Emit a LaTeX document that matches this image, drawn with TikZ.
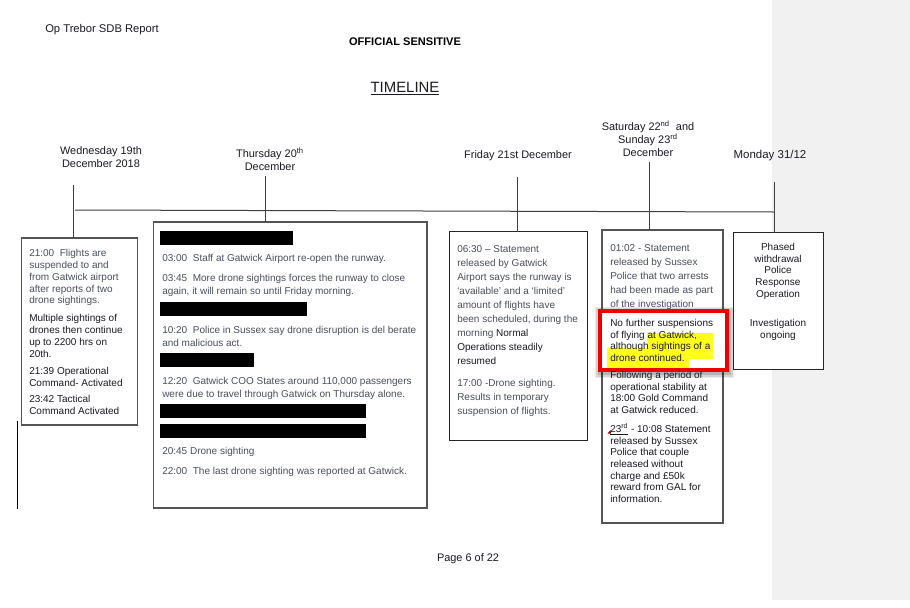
\documentclass[tikz,border=0pt]{standalone}
\usepackage{fontspec}
\usepackage{xcolor}
\setmainfont{Liberation Sans}
\usetikzlibrary{positioning,calc}
\definecolor{pagegrey}{HTML}{F1F1F1}
\definecolor{boxgrey}{HTML}{555555}
\definecolor{textgrey}{HTML}{4A4F5A}
\definecolor{textdark}{HTML}{1A1A22}
\definecolor{redframe}{HTML}{EE0000}
\definecolor{marker}{HTML}{FFFF1A}
\tikzset{
  datebox/.style={align=center,inner sep=0pt,text=textdark,font=\fontsize{8.2}{9.7}\selectfont},
  eventbox/.style={draw=boxgrey,line width=1pt,fill=white,anchor=north west,inner sep=0pt,outer sep=0pt},
  darkbox/.style={eventbox,draw=black!85,line width=0.75pt},
  para/.style={align=left,anchor=north west,inner sep=0pt,text=textgrey,font=\fontsize{7.5}{8.9}\selectfont},
  paradark/.style={para,text=textdark},
  redacted/.style={fill=black,anchor=north west,inner sep=0pt},
  stem/.style={draw=black!75,line width=0.75pt},
}
\begin{document}
\begin{tikzpicture}[x=0.75pt,y=-0.75pt]
      \useasboundingbox (0,0) rectangle (910,607);
      \fill[white] (0,0) rectangle (910,607);
      \fill[pagegrey] (772,0) rectangle (910,600);
      % header
      \node[anchor=west,inner sep=0pt,text=textdark,font=\fontsize{8.4}{10}\selectfont] (report) at (45,30) {Op Trebor SDB Report};
      \node[inner sep=0pt,font=\bfseries\fontsize{8.3}{10}\selectfont] (official) at (405,42) {OFFICIAL SENSITIVE};
      \node[inner sep=0pt,text=textdark,font=\fontsize{11.2}{13}\selectfont] (title) at (405,89) {\underline{TIMELINE}};
      \node[inner sep=0pt,text=textdark,font=\fontsize{8.2}{10}\selectfont] (page) at (468,559) {Page 6 of 22};
      % dates
      \node[datebox] (wed) at (101,157.5) {Wednesday 19th\\December 2018};
      \node[datebox] (thu) at (270,159.5) {Thursday 20\textsuperscript{th}\\December};
      \node[datebox] (fri) at (518,156) {Friday 21st December};
      \node[datebox] (sat) at (648,139) {Saturday 22\textsuperscript{nd}\ \ and\\Sunday 23\textsuperscript{rd}\\December};
      \node[datebox,font=\fontsize{8.6}{9.7}\selectfont] (mon) at (770,156) {Monday 31/12};
      % boxes
      \node[eventbox,minimum width=116pt*0.75,minimum height=187pt*0.75] (wedbox) at (21.5,238) {};
      \node[eventbox,minimum width=273.5pt*0.75,minimum height=286pt*0.75] (thubox) at (153.5,222) {};
      \node[darkbox,minimum width=138pt*0.75,minimum height=209pt*0.75] (fribox) at (449.5,231.5) {};
      \node[eventbox,minimum width=121pt*0.75,minimum height=293pt*0.75] (satbox) at (602,230) {};
      \node[darkbox,minimum width=89.5pt*0.75,minimum height=137pt*0.75] (monbox) at (733.5,232.5) {};
      % timeline
      \coordinate (lineleft) at (75,210);
      \coordinate (lineright) at (774,212);
      \coordinate (wedtop) at (73.5,185);
      \coordinate (thutop) at (265.5,176);
      \coordinate (fritop) at (517.5,177);
      \coordinate (sattop) at (649.5,162);
      \coordinate (montop) at (774.5,182);
      \draw[stem] (lineleft) -- (lineright);
      \draw[stem] (wedtop) -- (wedtop |- wedbox.north);
      \draw[stem] (thutop) -- (thutop |- thubox.north);
      \draw[stem] (fritop) -- (fritop |- fribox.north);
      \draw[stem] (sattop) -- (sattop |- satbox.north);
      \draw[stem] (montop) -- (montop |- monbox.north);
      % margin bar
      \coordinate (bartop) at (17.5,421);
      \coordinate (barend) at (17.5,509);
      \draw[black,line width=0.75pt] (bartop) -- (barend);
      % wednesday text
      \node[para] (w1) at (29,249) {21:00\ \ Flights are\\suspended to and\\from Gatwick airport\\after reports of two\\drone sightings.};
      \node[paradark] (w2) at (29,314) {Multiple sightings of\\drones then continue\\up to 2200 hrs on\\20th.};
      \node[paradark] (w3) at (29,367) {21:39 Operational\\Command- Activated};
      \node[paradark] (w4) at (29,395) {23:42 Tactical\\Command Activated};
      % thursday text
      \tikzset{para/.append style={font=\fontsize{7.5}{9.75}\selectfont}}
      \node[redacted,minimum width=133pt*0.75,minimum height=14pt*0.75] (black1) at (160,231) {};
      \node[redacted,minimum width=147pt*0.75,minimum height=14pt*0.75] (black2) at (160,302) {};
      \node[redacted,minimum width=94pt*0.75,minimum height=14pt*0.75] (black3) at (160,353) {};
      \node[redacted,minimum width=206pt*0.75,minimum height=14pt*0.75] (black4) at (160,404) {};
      \node[redacted,minimum width=206pt*0.75,minimum height=14pt*0.75] (black5) at (160,424) {};
      \node[para] (t1) at (162,254) {03:00\ \ Staff at Gatwick Airport re-open the runway.};
      \node[para] (t2) at (162,273.5) {03:45\ \ More drone sightings forces the runway to close\\again, it will remain so until Friday morning.};
      \node[para] (t3) at (162,326) {10:20\ \ Police in Sussex say drone disruption is del berate\\and malicious act.};
      \node[para] (t4) at (162,377) {12:20\ \ Gatwick COO States around 110,000 passengers\\were due to travel through Gatwick on Thursday alone.};
      \node[para] (t5) at (162,447) {20:45 Drone sighting};
      \node[para] (t6) at (162,467) {22:00\ \ The last drone sighting was reported at Gatwick.};
      % friday text
      \tikzset{para/.append style={font=\fontsize{7.5}{10.5}\selectfont}}
      \node[para] (f1) at (457,245.5) {06:30 -- Statement\\released by Gatwick\\Airport says the runway is\\‘available’ and a ‘limited’\\amount of flights have\\been scheduled, during the\\morning \textcolor{textdark}{Normal}\\\textcolor{textdark}{Operations steadily}\\\textcolor{textdark}{resumed}};
      \node[para] (f2) at (457,378.5) {17:00 -Drone sighting.\\Results in temporary\\suspension of flights.};
      % saturday text
      \node[para] (s1) at (610,244.5) {01:02 - Statement\\released by Sussex\\Police that two arrests\\had been made as part\\of the investigation};
      \tikzset{para/.append style={font=\fontsize{7.5}{8.75}\selectfont}}
      % shadow and red frame
      \foreach \w/\o in {9/0.08,7/0.1,5/0.14}{
        \draw[black,opacity=\o,line width=\w pt] (601,313) rectangle (728,372);
      }
      \fill[white] (600,311) rectangle (727,370);
      \fill[marker] (647,333) rectangle (713,359);
      \fill[marker] (607,348) rectangle (689,368);
      \draw[redframe,line width=3pt] (600,311) rectangle (727,370);
      \node[paradark] (s2) at (610,319) {No further suspensions\\of flying at Gatwick,\\although sightings of a\\drone continued.};
      \node[paradark] (s3) at (610,371) {Following a period of\\operational stability at\\18:00 Gold Command\\at Gatwick reduced.};
      \node[paradark] (s4) at (610,423) {\underline{23\textsuperscript{rd}} - 10:08 Statement\\released by Sussex\\Police that couple\\released without\\charge and £50k\\reward from GAL for\\information.};
      \coordinate (tickA) at (607.5,433.5);
      \coordinate (tickB) at (610.5,430);
      \coordinate (tickC) at (611,433.5);
      \fill[red!60!black] (tickA) -- (tickB) -- (tickC) -- cycle;
      % monday text
      \node[paradark,anchor=north,align=center] (m1) at (778,243) {Phased\\withdrawal\\Police\\Response\\Operation};
      \node[paradark,anchor=north,align=center] (m2) at (778,319) {Investigation\\ongoing};
    \end{tikzpicture}
\end{document}
